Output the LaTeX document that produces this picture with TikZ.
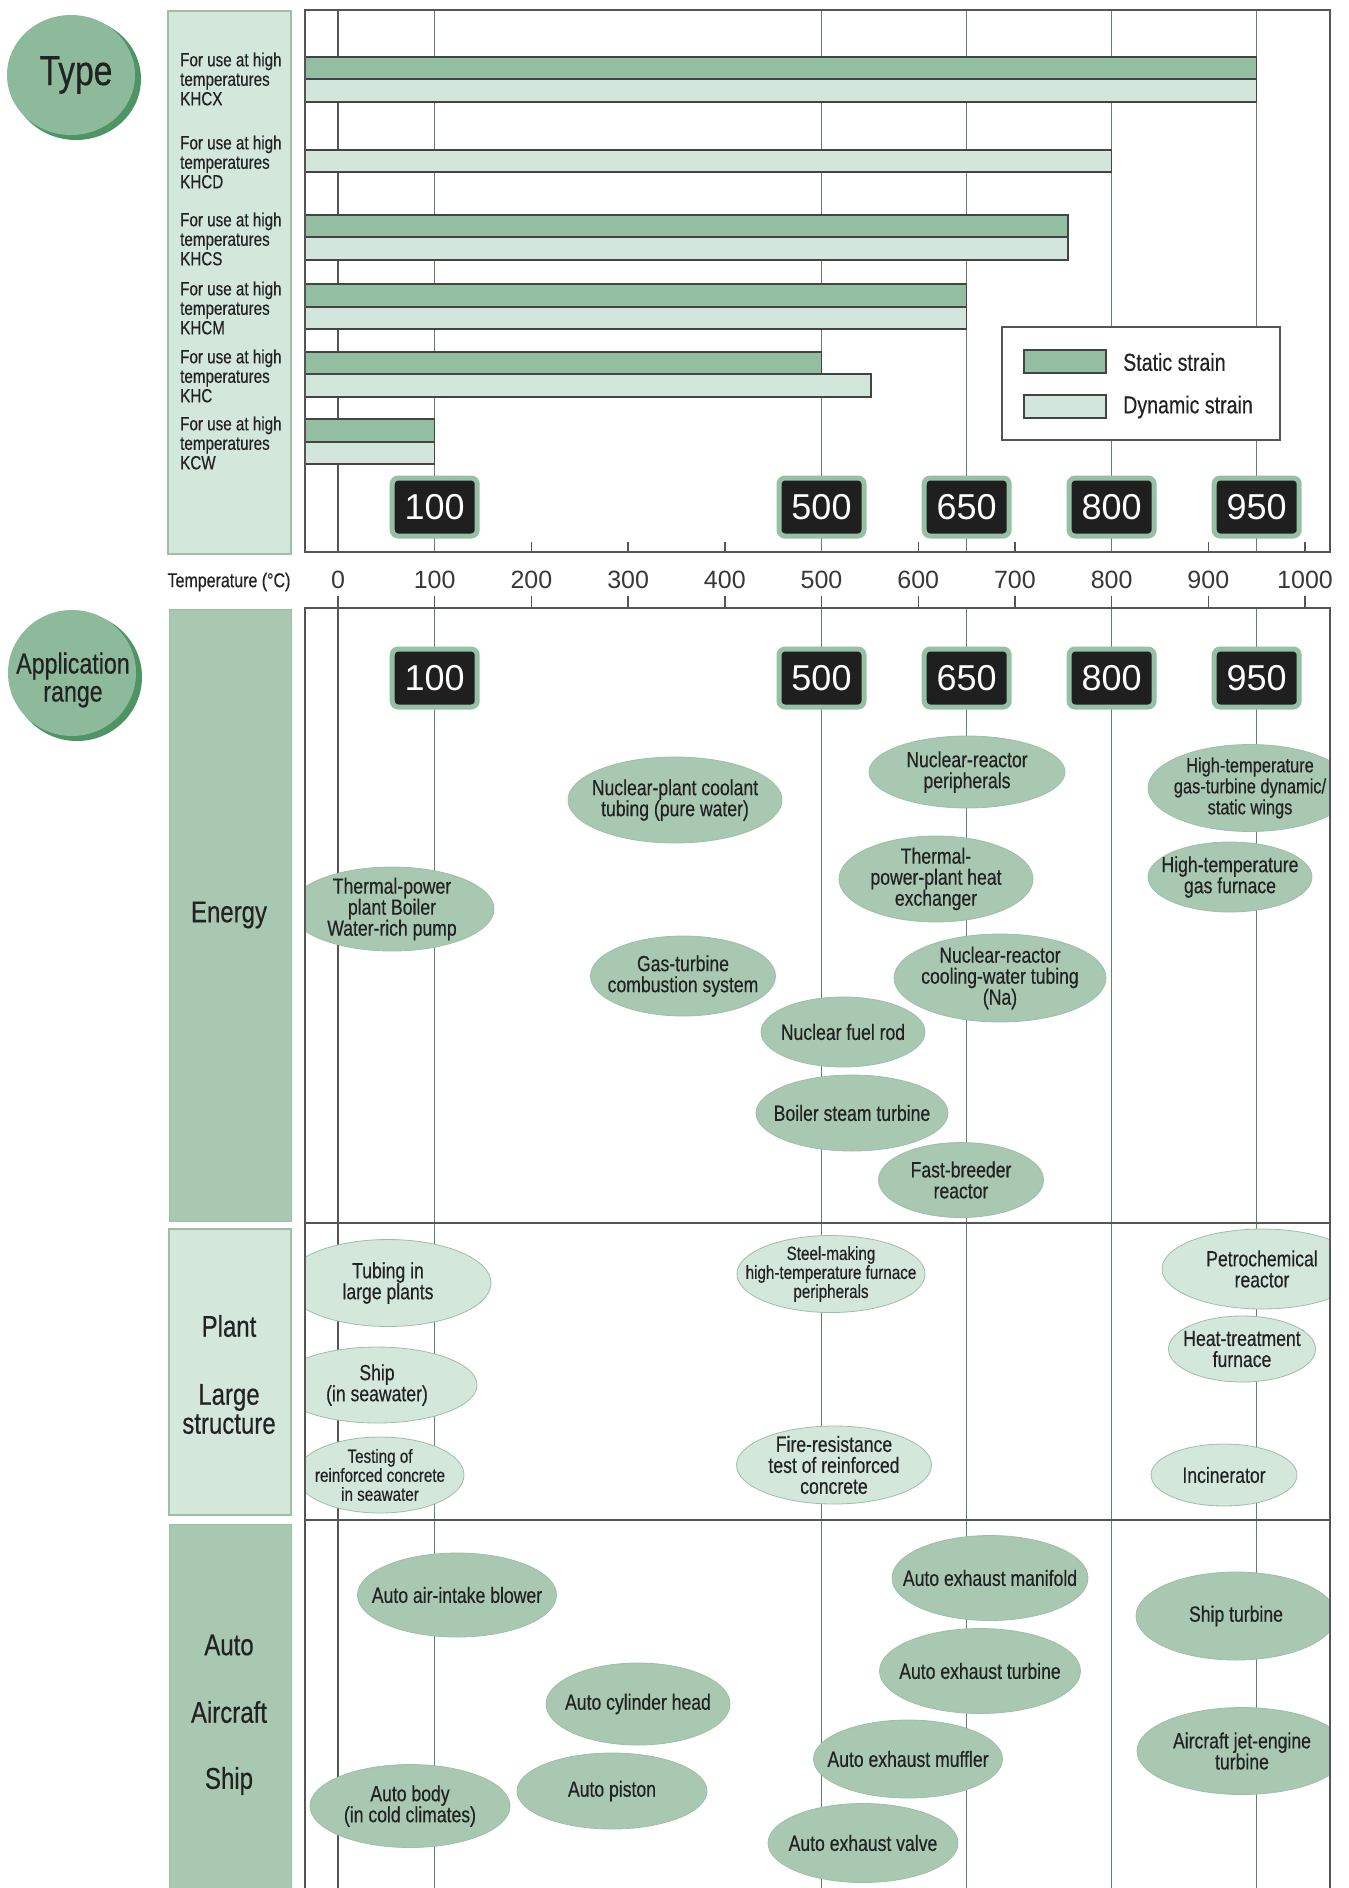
\documentclass[tikz,border=0pt]{standalone}
\usepackage{fontspec}
\setmainfont{Liberation Sans}[FakeStretch=0.8,FakeBold=0.4]
\newfontfamily\regfont{Liberation Sans}
\usetikzlibrary{shapes.geometric}
\definecolor{gmid}{HTML}{A8C8B2}
\definecolor{glight}{HTML}{D4E7DB}
\definecolor{gedge}{HTML}{9DBFA8}
\definecolor{gstatic}{HTML}{94BEA1}
\definecolor{gdyn}{HTML}{D3E6DB}
\definecolor{gcirc}{HTML}{8DBA9A}
\definecolor{gshadow}{HTML}{4E9465}
\definecolor{gridc}{HTML}{62806C}
\definecolor{framec}{HTML}{555555}
\definecolor{txt}{HTML}{222222}
\definecolor{badgeg}{HTML}{96C0A3}
\newcommand{\fsz}[2]{\fontsize{#1pt}{#2pt}\selectfont}
\begin{document}
\begin{tikzpicture}[x=1pt,y=-1pt,
  ellE/.style={ellipse, inner sep=0pt, fill=gmid, draw=gedge, line width=0.8},
  ellP/.style={ellipse, inner sep=0pt, fill=glight, draw=gedge, line width=0.8},
  etext/.style={align=center, text=txt, inner sep=0pt, font=\fsz{22}{21}},
  esmall/.style={align=center, text=txt, inner sep=0pt, font=\fsz{19}{19}},
  typelab/.style={anchor=west, align=left, text=txt, inner sep=0pt, font=\fsz{19}{19.5}},
  catlab/.style={align=center, text=txt, inner sep=0pt, font=\fsz{30}{29}},
  badge/.style={rectangle, rounded corners=6, fill=black!88, draw=badgeg, line width=5,
     minimum width=85, minimum height=58, inner sep=0pt, text=white, font=\regfont\fsz{36}{36}},
  axnum/.style={text=txt!90, inner sep=0pt, font=\regfont\fsz{25}{25}},
  barS/.style={fill=gstatic, draw=framec!80!black, line width=1.1},
  barD/.style={fill=gdyn, draw=framec!80!black, line width=1.1},
  gridl/.style={draw=gridc, line width=1.3},
  grid0/.style={draw=framec, line width=1.3},
  frameline/.style={draw=framec, line width=1.4}
]
\useasboundingbox (0,0) rectangle (1349,1888);
\fill[white] (0,0) rectangle (1349,1888);

% ---------- left circles ----------
\node[ellipse, fill=gshadow, minimum width=130, minimum height=122, inner sep=0] (typesh) at (76,79) {};
\node[ellipse, fill=gcirc, minimum width=128, minimum height=120, inner sep=0] (typec) at (71,75) {};
\node[text=txt, inner sep=0, font=\fsz{42}{42}] (typet) at (76,75) {Type};
\node[ellipse, fill=gshadow, minimum width=130, minimum height=128, inner sep=0] (appsh) at (77,677) {};
\node[ellipse, fill=gcirc, minimum width=128, minimum height=126, inner sep=0] (appc) at (72,673) {};
\node[align=center, text=txt, inner sep=0, font=\fsz{29}{28}] (appt) at (73,680) {Application\\range};

% ---------- category boxes ----------
\draw[fill=glight, draw=gedge, line width=2] (168,11) rectangle (291,554);
\draw[fill=gmid, draw=gedge, line width=1] (169,609) rectangle (291,1221);
\draw[fill=glight, draw=gedge, line width=2] (169,1229) rectangle (291,1515);
\draw[fill=gmid, draw=gedge, line width=1] (169,1524) rectangle (291,1895);

\node[catlab] (cen) at (229,915) {Energy};
\node[catlab] (cpl) at (229,1326) {Plant};
\node[catlab] (cls) at (229,1409) {Large\\structure};
\node[catlab] (cau) at (229,1645) {Auto};
\node[catlab] (cai) at (229,1712) {Aircraft};
\node[catlab] (csh) at (229,1781) {Ship};

% ---------- upper chart ----------
\draw[grid0] (338,10) -- (338,552);
\foreach \xx in {434.7,821.5,966.7,1111.6,1256.7} \draw[gridl] (\xx,10) -- (\xx,552);
\foreach \t in {2,3,4,6,7,9,10} \draw[frameline] ({338+96.7*\t},542) -- ({338+96.7*\t},552);

\draw[barS] (305,57) rectangle (1256.7,79);
\draw[barD] (305,79) rectangle (1256.7,102);
\draw[barD] (305,150) rectangle (1111.6,172);
\draw[barS] (305,215) rectangle (1068,237);
\draw[barD] (305,237) rectangle (1068,260);
\draw[barS] (305,284) rectangle (966.7,307);
\draw[barD] (305,307) rectangle (966.7,329);
\draw[barS] (305,352) rectangle (821.5,374);
\draw[barD] (305,374) rectangle (871,397);
\draw[barS] (305,419) rectangle (434.7,442);
\draw[barD] (305,442) rectangle (434.7,464);

\draw[frameline] (305,10) rectangle (1330,552);

\node[typelab] (tx) at (180,79) {For use at high\\temperatures\\KHCX};
\node[typelab] (td) at (180,162) {For use at high\\temperatures\\KHCD};
\node[typelab] (ts) at (180,239) {For use at high\\temperatures\\KHCS};
\node[typelab] (tm) at (180,308) {For use at high\\temperatures\\KHCM};
\node[typelab] (tc) at (180,376) {For use at high\\temperatures\\KHC};
\node[typelab] (tw) at (180,443) {For use at high\\temperatures\\KCW};

% legend
\draw[fill=white, draw=framec, line width=1.3] (1002,327) rectangle (1280,440);
\draw[barS] (1024,350) rectangle (1106,373);
\draw[barD] (1024,395) rectangle (1106,418);
\node[anchor=west, text=txt, inner sep=0, font=\fsz{24.5}{25}] (ls) at (1123,362) {Static strain};
\node[anchor=west, text=txt, inner sep=0, font=\fsz{24.5}{25}] (ld) at (1123,407) {Dynamic strain};

\node[badge] (u100) at (434.7,507) {100};
\node[badge] (u500) at (821.5,507) {500};
\node[badge] (u650) at (966.7,507) {650};
\node[badge] (u800) at (1111.6,507) {800};
\node[badge] (u950) at (1256.7,507) {950};

% ---------- axis ----------
\node[text=txt, inner sep=0, font=\fsz{20}{20}] (templab) at (229,582) {Temperature (°C)};
\foreach \t in {0,...,10} {
  \node[axnum] (ax\t) at ({338+96.7*\t},580) {\the\numexpr\t*100\relax};
  \draw[frameline] ({338+96.7*\t},596) -- ({338+96.7*\t},608);
}

% ---------- lower chart ----------
\draw[grid0] (338,608) -- (338,1888);
\foreach \xx in {434.7,821.5,966.7,1111.6,1256.7} \draw[gridl] (\xx,608) -- (\xx,1888);

\node[badge] (l100) at (434.7,678) {100};
\node[badge] (l500) at (821.5,678) {500};
\node[badge] (l650) at (966.7,678) {650};
\node[badge] (l800) at (1111.6,678) {800};
\node[badge] (l950) at (1256.7,678) {950};

\begin{scope}
\clip (305,608) rectangle (1330,1888);
% Energy
\node[ellE, minimum width=204, minimum height=84, label={[etext]center:Thermal-power\\plant Boiler\\Water-rich pump}] (e1) at (392,909) {};
\node[ellE, minimum width=214, minimum height=86, label={[etext]center:Nuclear-plant coolant\\tubing (pure water)}] (e2) at (675,800) {};
\node[ellE, minimum width=196, minimum height=72, label={[etext]center:Nuclear-reactor\\peripherals}] (e3) at (967,772) {};
\node[ellE, minimum width=194, minimum height=86, label={[etext]center:Thermal-\\power-plant heat\\exchanger}] (e4) at (936,879) {};
\node[ellE, minimum width=204, minimum height=87, label={[etext,font=\fsz{20.5}{21}]center:High-temperature\\gas-turbine dynamic/\\static wings}] (e5) at (1250,788) {};
\node[ellE, minimum width=164, minimum height=70, label={[etext]center:High-temperature\\gas furnace}] (e6) at (1230,877) {};
\node[ellE, minimum width=185, minimum height=80, label={[etext]center:Gas-turbine\\combustion system}] (e7) at (683,976) {};
\node[ellE, minimum width=212, minimum height=88, label={[etext]center:Nuclear-reactor\\cooling-water tubing\\(Na)}] (e8) at (1000,978) {};
\node[ellE, minimum width=164, minimum height=70, label={[etext]center:Nuclear fuel rod}] (e9) at (843,1032) {};
\node[ellE, minimum width=192, minimum height=76, label={[etext]center:Boiler steam turbine}] (e10) at (852,1113) {};
\node[ellE, minimum width=165, minimum height=75, label={[etext]center:Fast-breeder\\reactor}] (e11) at (961,1180) {};
% Plant
\node[ellP, minimum width=206, minimum height=87, label={[etext]center:Tubing in\\large plants}] (p1) at (388,1283) {};
\node[ellP, minimum width=200, minimum height=76, label={[etext]center:Ship\\(in seawater)}] (p2) at (377,1385) {};
\node[ellP, minimum width=168, minimum height=76, label={[esmall]center:Testing of\\reinforced concrete\\in seawater}] (p3) at (380,1475) {};
\node[ellP, minimum width=188, minimum height=77, label={[esmall]center:Steel-making\\high-temperature furnace\\peripherals}] (p4) at (831,1274) {};
\node[ellP, minimum width=195, minimum height=78, label={[etext]center:Fire-resistance\\test of reinforced\\concrete}] (p5) at (834,1465) {};
\node[ellP, minimum width=200, minimum height=80, label={[etext]center:Petrochemical\\reactor}] (p6) at (1262,1269) {};
\node[ellP, minimum width=147, minimum height=66, label={[etext]center:Heat-treatment\\furnace}] (p7) at (1242,1349) {};
\node[ellP, minimum width=146, minimum height=62, label={[etext]center:Incinerator}] (p8) at (1224,1475) {};
% Auto
\node[ellE, minimum width=199, minimum height=84, label={[etext]center:Auto air-intake blower}] (a1) at (457,1595) {};
\node[ellE, minimum width=196, minimum height=85, label={[etext]center:Auto exhaust manifold}] (a2) at (990,1578) {};
\node[ellE, minimum width=200, minimum height=88, label={[etext]center:Ship turbine}] (a3) at (1236,1616) {};
\node[ellE, minimum width=201, minimum height=85, label={[etext]center:Auto exhaust turbine}] (a4) at (980,1671) {};
\node[ellE, minimum width=184, minimum height=82, label={[etext]center:Auto cylinder head}] (a5) at (638,1704) {};
\node[ellE, minimum width=210, minimum height=87, label={[etext]center:Aircraft jet-engine\\turbine}] (a6) at (1242,1751) {};
\node[ellE, minimum width=189, minimum height=78, label={[etext]center:Auto exhaust muffler}] (a7) at (908,1759) {};
\node[ellE, minimum width=190, minimum height=76, label={[etext]center:Auto piston}] (a8) at (612,1791) {};
\node[ellE, minimum width=200, minimum height=83, label={[etext]center:Auto body\\(in cold climates)}] (a9) at (410,1806) {};
\node[ellE, minimum width=190, minimum height=79, label={[etext]center:Auto exhaust valve}] (a10) at (863,1843) {};
\end{scope}

% lower frame
\draw[frameline] (305,1888) -- (305,608) -- (1330,608) -- (1330,1888);
\draw[frameline] (305,1223) -- (1330,1223);
\draw[frameline] (305,1520) -- (1330,1520);
\end{tikzpicture}
\end{document}
